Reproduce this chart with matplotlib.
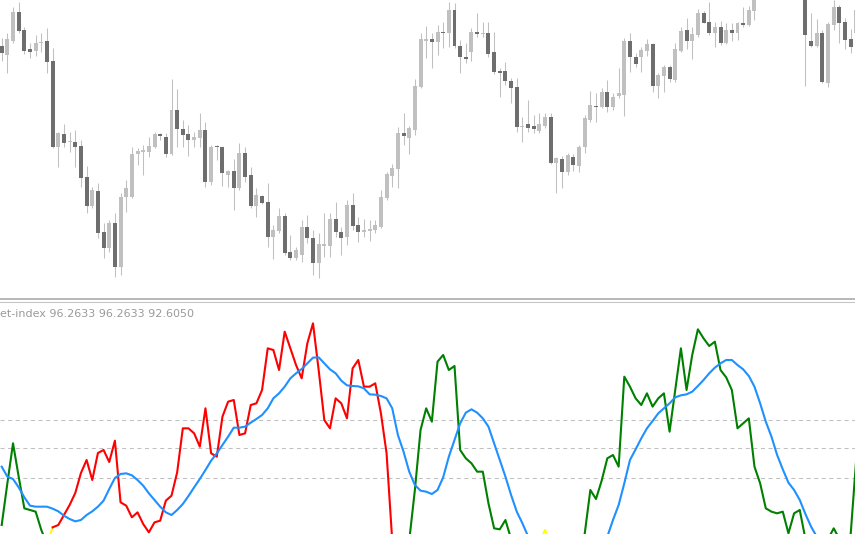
import matplotlib.pyplot as plt
import numpy as np

# ---- price pane: OHLC per bar (arbitrary price units)
opens = [762, 735, 778, 865, 810, 752, 748, 770, 778, 718,
         458, 497, 473, 475, 463, 370, 282, 328, 205, 155,
         230, 100, 308, 308, 438, 445, 445, 460, 497, 490,
         438, 570, 513, 497, 480, 485, 510, 355, 460, 460,
         375, 387, 335, 442, 375, 282, 312, 295, 188, 208,
         252, 145, 125, 135, 220, 187, 112, 163, 163, 243,
         205, 188, 285, 225, 203, 208, 210, 220, 305, 373,
         392, 502, 485, 510, 638, 778, 782, 773, 805, 800,
         870, 763, 730, 745, 805, 797, 800, 743, 687, 687,
         657, 638, 518, 527, 522, 508, 522, 548, 410, 422,
         385, 430, 402, 458, 540, 582, 578, 625, 578, 612,
         615, 778, 730, 730, 748, 768, 642, 672, 700, 660,
         748, 810, 778, 795, 862, 835, 800, 820, 770, 810,
         800, 832, 825, 868, 905, 950, 975, 960, 990, 1005,
         985, 955, 930, 778, 762, 802, 652, 825, 878, 835,
         782, 800]
highs = [785, 800, 880, 895, 820, 770, 795, 800, 815, 755,
         505, 528, 505, 510, 480, 402, 340, 350, 232, 240,
         260, 320, 360, 460, 455, 465, 490, 505, 502, 500,
         662, 632, 540, 525, 505, 560, 535, 465, 465, 460,
         390, 422, 470, 460, 400, 335, 315, 350, 225, 275,
         260, 195, 160, 240, 255, 210, 200, 262, 262, 295,
         220, 300, 322, 250, 242, 240, 240, 330, 385, 408,
         520, 560, 522, 662, 802, 822, 802, 825, 835, 895,
         892, 780, 770, 815, 860, 835, 835, 805, 695, 715,
         665, 665, 550, 600, 555, 560, 562, 560, 428, 432,
         440, 438, 465, 555, 628, 620, 635, 660, 620, 695,
         785, 802, 740, 760, 782, 772, 680, 705, 705, 770,
         820, 845, 820, 872, 867, 895, 835, 838, 830, 830,
         835, 878, 882, 930, 960, 990, 1010, 1000, 1020, 1030,
         1000, 975, 945, 862, 842, 810, 835, 900, 885, 845,
         812, 885]
lows = [718, 682, 770, 800, 738, 725, 732, 745, 682, 455,
        400, 460, 445, 400, 340, 260, 275, 185, 125, 145,
        70, 75, 265, 305, 405, 375, 430, 455, 480, 430,
        435, 460, 460, 432, 460, 460, 338, 345, 420, 342,
        340, 270, 330, 355, 275, 250, 288, 158, 122, 200,
        135, 120, 120, 115, 170, 75, 65, 130, 130, 190,
        135, 165, 210, 175, 188, 178, 200, 215, 300, 340,
        335, 465, 438, 495, 635, 725, 697, 735, 755, 760,
        755, 682, 710, 718, 788, 790, 730, 678, 610, 645,
        590, 505, 475, 505, 502, 502, 515, 408, 320, 335,
        375, 388, 385, 442, 535, 535, 575, 565, 570, 605,
        552, 685, 700, 685, 732, 625, 605, 625, 655, 655,
        743, 752, 722, 788, 830, 795, 758, 765, 767, 778,
        780, 820, 822, 840, 902, 935, 950, 940, 965, 975,
        945, 915, 642, 760, 760, 652, 638, 810, 772, 752,
        740, 790]
closes = [740, 782, 865, 808, 748, 745, 772, 772, 715, 458,
          502, 472, 476, 460, 367, 282, 330, 202, 155, 230,
          100, 310, 335, 438, 448, 450, 463, 498, 492, 438,
          570, 512, 495, 480, 490, 510, 355, 460, 458, 380,
          387, 335, 442, 370, 282, 315, 290, 188, 210, 252,
          140, 125, 150, 220, 185, 112, 167, 167, 243, 203,
          185, 285, 223, 203, 210, 213, 225, 310, 378, 395,
          502, 492, 515, 642, 782, 782, 773, 805, 800, 870,
          762, 728, 723, 805, 797, 800, 737, 685, 680, 657,
          637, 520, 522, 515, 512, 527, 548, 412, 425, 385,
          435, 405, 460, 545, 585, 578, 625, 578, 610, 620,
          778, 728, 707, 750, 768, 642, 675, 700, 663, 752,
          808, 778, 798, 862, 832, 802, 820, 772, 810, 800,
          830, 825, 870, 905, 950, 975, 960, 990, 1005, 985,
          955, 930, 795, 762, 802, 655, 828, 878, 832, 780,
          758, 870]

# ---- indicator pane: main line, its state (G/R/Y) and the smoothed signal
index_line = [27, 152, 272, 172, 77, 72, 67, 12, -30, 20,
              27, 57, 87, 123, 183, 222, 162, 243, 252, 216,
              280, 95, 85, 50, 65, 30, 5, 35, 40, 100,
              115, 185, 317, 317, 302, 262, 377, 242, 232, 352,
              397, 402, 297, 302, 387, 392, 432, 557, 552, 492,
              607, 557, 507, 467, 572, 632, 492, 342, 317, 407,
              392, 347, 497, 522, 442, 442, 452, 362, 242, -20,
              -60, -50, -20, 132, 312, 377, 337, 517, 537, 492,
              504, 252, 227, 212, 187, 187, 92, 17, 14, 42,
              -15, -50, -80, -90, -60, -25, 12, -30, -60, -80,
              -70, -50, -25, 0, 132, 105, 160, 227, 237, 202,
              472, 442, 407, 387, 422, 382, 407, 422, 307, 432,
              557, 432, 537, 614, 587, 564, 577, 492, 470, 432,
              317, 332, 347, 202, 152, 77, 67, 62, 67, 2,
              62, 72, -15, -40, -50, -40, -15, 17, -15, -20,
              0, 230]
index_state = "G" * 9 + "Y" + "R" * 60 + "G" * 26 + "YY" + "G" * 54
signal_line = [202, 172, 165, 140, 110, 85, 82, 82, 82, 76,
               68, 55, 45, 38, 42, 57, 68, 82, 100, 135,
               168, 180, 182, 176, 162, 145, 122, 102, 82, 65,
               57, 72, 90, 114, 140, 165, 192, 220, 242, 267,
               292, 319, 319, 322, 334, 345, 357, 377, 407, 422,
               442, 467, 482, 495, 512, 529, 530, 512, 494, 482,
               460, 446, 444, 443, 437, 419, 418, 414, 407, 377,
               297, 247, 187, 147, 130, 127, 120, 132, 170, 232,
               282, 332, 364, 374, 364, 347, 322, 272, 222, 172,
               117, 67, 32, -7, -35, -65, -90, -110, -120, -125,
               -120, -110, -95, -80, -65, -50, -30, -8, 42, 87,
               152, 222, 254, 287, 317, 339, 362, 377, 392, 410,
               416, 419, 427, 444, 462, 482, 499, 512, 522, 522,
               507, 494, 474, 442, 392, 337, 292, 237, 194, 154,
               132, 102, 60, 22, -8, -40, -70, -95, -115, -130,
               -140, -145]
levels = [342, 257, 167]
label = "et-index 96.2633 96.2633 92.6050"

W, H = 855, 534
fig = plt.figure(figsize=(W / 100, H / 100), dpi=100)

# first bar sits 1.7 px from the left edge, bars are 5.66 px apart
x0_px, step_px = 1.7, 5.66
xlim = (-x0_px / step_px, (W - x0_px) / step_px)

ax_p = fig.add_axes([0, 1 - 299 / H, 1, 299 / H])
ax_i = fig.add_axes([0, 0, 1, 232.5 / H])
for ax in (ax_p, ax_i):
    ax.set_xlim(*xlim)
    ax.set_xticks([])
    ax.set_yticks([])
    for s in ax.spines.values():
        s.set_visible(False)
ax_p.set_ylim(3, 900)
ax_i.set_ylim(0, 697.5)
ax_p.spines["bottom"].set_visible(True)
ax_p.spines["bottom"].set(color="#a4a4a4", linewidth=1.1)
ax_i.spines["top"].set_visible(True)
ax_i.spines["top"].set(color="#c4c4c4", linewidth=0.75)

# candles
o, h, l, c = (np.array(a, float) for a in (opens, highs, lows, closes))
x = np.arange(len(o))
up = c >= o
light, dark = "#c0c0c0", "#6e6e6e"
ax_p.vlines(x, l, h, color=light, linewidth=0.75, zorder=2)
lo = np.minimum(o, c)
hgt = np.maximum(np.abs(c - o), 3)
ax_p.bar(x[up], hgt[up], bottom=lo[up], width=0.7, color=light, linewidth=0, zorder=3)
ax_p.bar(x[~up], hgt[~up], bottom=lo[~up], width=0.7, color=dark, linewidth=0, zorder=3)

# indicator
for lv in levels:
    ax_i.axhline(lv, color="#c0c0c0", linewidth=0.75, dashes=(3.9, 3.4), zorder=1)

v = np.array(index_line, float)
xi = np.arange(len(v))
state_colors = {"G": "#008000", "R": "#ff0000", "Y": "#ffff00"}
n = len(v)
start = 1
for i in range(2, n + 1):
    if i == n or index_state[i] != index_state[start]:
        ax_i.plot(xi[start - 1:i], v[start - 1:i], color=state_colors[index_state[start]],
                  linewidth=1.5, zorder=2)
        start = i

ax_i.plot(np.arange(len(signal_line)), signal_line, color="#1e90ff", linewidth=1.5, zorder=3)

fig.text(0, 1 - 314 / H, label, color="#9a9a9a", fontsize=8, ha="left", va="center")

fig.savefig("out.png", dpi=100)
